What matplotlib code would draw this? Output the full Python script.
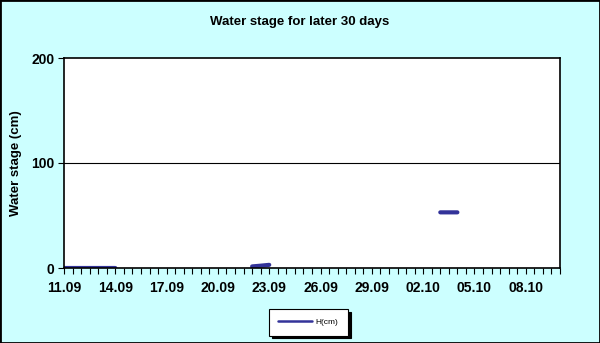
import numpy as np
import matplotlib.pyplot as plt
from matplotlib.patches import Rectangle

plt.rcParams["font.family"] = ["Liberation Sans", "DejaVu Sans"]

# half-day observation slots starting 11.09
n_slots = 58
tick_labels = ["11.09", "14.09", "17.09", "20.09", "23.09", "26.09",
               "29.09", "02.10", "05.10", "08.10"]
label_every = 6

# water stage (cm) per slot, None where no reading
stage = [None] * n_slots
for k in range(0, 7):
    stage[k] = 0.0
stage[22] = 1.5
stage[23] = 2.2
stage[24] = 3.0
stage[44] = 53.0
stage[45] = 53.0
stage[46] = 53.0

values = np.array([np.nan if v is None else v for v in stage])
x = np.arange(n_slots)

fig = plt.figure(figsize=(6, 3.43), dpi=100, facecolor="#CCFFFF")
ax = fig.add_axes([64 / 600, 75 / 343, 496 / 600, 210 / 343])
ax.set_facecolor("white")

ax.plot(x, values, color="#333399", linewidth=3, solid_capstyle="round",
        label="H(cm)")

ax.set_xlim(0, n_slots)
ax.set_ylim(0, 200)
ax.set_yticks([0, 100, 200])
ax.set_yticklabels(["0", "100", "200"], fontsize=10, fontweight="bold")
ax.axhline(100, color="black", linewidth=0.8)

ax.set_xticks(np.arange(0, len(tick_labels) * label_every, label_every))
ax.set_xticklabels(tick_labels, fontsize=10, fontweight="bold")
ax.set_xticks(np.arange(0, n_slots + 1), minor=True)
ax.tick_params(axis="x", which="both", direction="out", length=4, width=0.8,
               pad=5)
ax.tick_params(axis="y", direction="out", length=4, width=0.8, pad=3)

for side in ax.spines.values():
    side.set_linewidth(1.2)
    side.set_color("black")

fig.text(16 / 600, 1 - 163 / 343, "Water stage (cm)", rotation=90,
         ha="center", va="center", fontsize=9.5, fontweight="bold")
fig.text(0.5, 1 - 22 / 343, "Water stage for later 30 days", ha="center",
         va="center", fontsize=9.5, fontweight="bold")

leg = fig.legend(loc="center", bbox_to_anchor=(308.5 / 600, 1 - 322.5 / 343),
                 fontsize=6, frameon=True, fancybox=False,
                 shadow={"color": "black", "alpha": 1},
                 handlelength=4.0, borderpad=1.1, handletextpad=0.5,
                 borderaxespad=0)
leg.get_frame().set_edgecolor("black")
leg.get_frame().set_linewidth(0.8)
for h in leg.get_lines():
    h.set_linewidth(1.8)

fig.add_artist(Rectangle((0, 0), 1, 1, transform=fig.transFigure,
                         fill=False, edgecolor="black", linewidth=2))

fig.savefig("out.png", dpi=100, facecolor=fig.get_facecolor())
